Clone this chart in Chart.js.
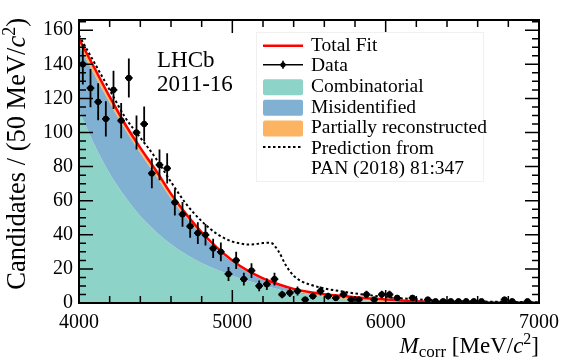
<!DOCTYPE html>
<html lang="en">
<head>
<meta charset="UTF-8">
<title>Corrected mass fit</title>
<script src="https://cdn.jsdelivr.net/npm/chart.js"></script>
<style>
  body { margin: 0; background: #fff; }
  #wrap { width: 567px; height: 362px; }
</style>
</head>
<body>
<div id="wrap"><canvas id="mcorr" width="567" height="362"></canvas></div>
<script>
// binned data, 50 MeV bins
const binCentres = [4025, 4075, 4125, 4175, 4225, 4275, 4325, 4375, 4425, 4475,
                    4525, 4575, 4625, 4675, 4725, 4775, 4825, 4875, 4925, 4975,
                    5025, 5075, 5125, 5175, 5225, 5275, 5325, 5375, 5425, 5475,
                    5525, 5575, 5625, 5675, 5725, 5775, 5825, 5875, 5925, 5975,
                    6025, 6075, 6125, 6175, 6225, 6275, 6325, 6375, 6425, 6475,
                    6525, 6575, 6625, 6675, 6725, 6775, 6825, 6875, 6925, 6975];
const counts = [140, 126, 118, 108, 125, 107, 132, 100, 105, 76,
                81, 79, 59, 52, 45, 41, 40, 32, 30, 17,
                25, 14, 19, 10, 11, 14, 5, 6, 7, 2,
                4, 7, 4, 3, 5, 2, 2, 5, 2, 5,
                5, 3, 0, 3, 0, 2, 1, 1, 1, 1,
                1, 1, 1, 0, 0, 2, 1, 0, 1, 0];
const binHalf = 25;

// fit components, read at 100 MeV steps
const fitMass = [4000, 4100, 4200, 4300, 4400, 4500, 4600, 4700, 4800, 4900,
                 5000, 5100, 5200, 5300, 5400, 5500, 5600, 5700, 5800, 5900,
                 6000, 6100, 6200, 6300, 6400, 6500, 6600, 6700, 6800, 6900, 7000];
const combinatorial = [113, 93, 76, 62.5, 51, 42, 34.5, 28.5, 23.5, 19.5,
                       16, 13, 10.5, 8, 6.2, 4.8, 3.6, 2.7, 2, 1.5,
                       1.1, 0.8, 0.6, 0.45, 0.35, 0.25, 0.2, 0.15, 0.1, 0.08, 0.06];
const misidentified = [38, 41, 41.5, 39.5, 37, 33, 27, 21.5, 16.5, 11.8,
                       8, 5, 3.2, 2.2, 1.2, 0.5, 0.2, 0.1, 0, 0,
                       0, 0, 0, 0, 0, 0, 0, 0, 0, 0, 0];
const partReco = [4, 4, 3.5, 3, 3, 3, 2.5, 2, 1.5, 1.2,
                  1, 1, 0.8, 0.8, 0.9, 1.2, 1.4, 1.4, 1.4, 1.2,
                  1, 0.7, 0.4, 0.25, 0.15, 0.15, 0.15, 0.15, 0.2, 0.17, 0.14];

// PAN (2018) 81:347 prediction
const predMass = [4000, 4100, 4200, 4300, 4400, 4500, 4600, 4700, 4800, 4900,
                  5000, 5050, 5100, 5150, 5200, 5250, 5300, 5350, 5400, 5450,
                  5500, 5600, 5700, 5800, 5900, 6000, 6200, 6400, 6600, 6800, 7000];
const prediction = [157, 141, 125, 109, 97, 85, 71, 58, 48, 40.5,
                    36, 35, 34.3, 34.5, 35.2, 35.3, 30.5, 22, 16, 12.8,
                    11, 8.5, 7, 5.6, 4.5, 3.5, 2.2, 1.3, 0.9, 0.6, 0.45];

const xRange = [4000, 7000];
const yRange = [0, 166];

const SERIF = '"Liberation Serif", "DejaVu Serif", serif';
const colTeal = '#8dd3c7', colBlue = '#80b1d3', colOrange = '#fdb462', colRed = '#ff0000';

const stackMis = combinatorial.map((v, i) => v + misidentified[i]);
const stackAll = stackMis.map((v, i) => v + partReco[i]);
const xy = (xs, ys) => xs.map((x, i) => ({x: x, y: ys[i]}));
const dataPts = binCentres.map((x, i) => ({x: x, y: counts[i]})).filter(p => p.y > 0);

function richText(ctx, parts, x, y, align) {
  let w = 0;
  parts.forEach(p => { ctx.font = p.font; p.w = ctx.measureText(p.t).width; w += p.w; });
  let cx = align === 'right' ? x - w : x;
  parts.forEach(p => {
    ctx.font = p.font;
    ctx.fillText(p.t, cx, y + (p.dy || 0));
    cx += p.w;
  });
}

const errorBars = {
  id: 'errorBars',
  beforeDatasetDraw(chart, args) {
    if (args.index !== 4) return;
    const {ctx, scales: {x, y}} = chart;
    ctx.save();
    ctx.strokeStyle = '#000';
    ctx.lineWidth = 1.8;
    ctx.beginPath();
    dataPts.forEach(p => {
      const px = x.getPixelForValue(p.x), py = y.getPixelForValue(p.y);
      const e = Math.sqrt(p.y);
      ctx.moveTo(x.getPixelForValue(p.x - binHalf), py);
      ctx.lineTo(x.getPixelForValue(p.x + binHalf), py);
      ctx.moveTo(px, y.getPixelForValue(p.y - e));
      ctx.lineTo(px, y.getPixelForValue(p.y + e));
    });
    ctx.stroke();
    ctx.restore();
  }
};

// ROOT-like frame with inward ticks, titles, labels and legend
const rootStyle = {
  id: 'rootStyle',
  afterDraw(chart) {
    const {ctx, chartArea: a, scales: {x, y}} = chart;
    ctx.save();
    ctx.strokeStyle = '#000';
    ctx.lineWidth = 2;
    ctx.strokeRect(a.left, a.top, a.right - a.left, a.bottom - a.top);

    ctx.lineWidth = 1.5;
    ctx.beginPath();
    for (let m = xRange[0]; m <= xRange[1]; m += 200) {
      const px = x.getPixelForValue(m);
      const len = m % 1000 === 0 ? 13 : 7;
      ctx.moveTo(px, a.bottom); ctx.lineTo(px, a.bottom - len);
      ctx.moveTo(px, a.top); ctx.lineTo(px, a.top + len);
    }
    for (let v = 0; v <= yRange[1]; v += 5) {
      const py = y.getPixelForValue(v);
      const len = v % 20 === 0 ? 14 : 7;
      ctx.moveTo(a.left, py); ctx.lineTo(a.left + len, py);
      ctx.moveTo(a.right, py); ctx.lineTo(a.right - len, py);
    }
    ctx.stroke();

    ctx.fillStyle = '#000';
    ctx.textBaseline = 'alphabetic';

    // y title
    ctx.save();
    ctx.translate(25, 18);
    ctx.rotate(-Math.PI / 2);
    richText(ctx, [
      {t: 'Candidates / (50 MeV/', font: '26.5px ' + SERIF},
      {t: 'c', font: 'italic 26.5px ' + SERIF},
      {t: '2', font: '18px ' + SERIF, dy: -10},
      {t: ')', font: '26.5px ' + SERIF}
    ], 0, 0, 'right');
    ctx.restore();

    // x title
    richText(ctx, [
      {t: 'M', font: 'italic 23px ' + SERIF},
      {t: 'corr', font: '17px ' + SERIF, dy: 4},
      {t: ' [MeV/', font: '23px ' + SERIF},
      {t: 'c', font: 'italic 23px ' + SERIF},
      {t: '2', font: '16px ' + SERIF, dy: -9},
      {t: ']', font: '23px ' + SERIF}
    ], 539, 353, 'right');

    // experiment label
    ctx.font = '23px ' + SERIF;
    ctx.fillText('LHCb', 157, 67);
    ctx.fillText('2011-16', 157, 91);

    // legend
    const lx = 256, ly = 32, lw = 227, lh = 149;
    ctx.fillStyle = '#fff';
    ctx.fillRect(lx, ly, lw, lh);
    ctx.strokeStyle = '#f0f0f0';
    ctx.lineWidth = 1;
    ctx.strokeRect(lx + 0.5, ly + 0.5, lw, lh);

    const sx0 = 263, sx1 = 303, tx = 311, base0 = 50.7, step = 20.6;
    const rows = ['Total Fit', 'Data', 'Combinatorial', 'Misidentified',
                  'Partially reconstructed', 'Prediction from', 'PAN (2018) 81:347'];
    ctx.font = '19.5px ' + SERIF;
    ctx.fillStyle = '#000';
    rows.forEach((r, i) => ctx.fillText(r, tx, base0 + i * step));

    ctx.strokeStyle = colRed; ctx.lineWidth = 2.5;
    ctx.beginPath(); ctx.moveTo(sx0, base0 - 5); ctx.lineTo(sx1, base0 - 5); ctx.stroke();

    const dy = base0 + step - 6.5;
    ctx.strokeStyle = '#000'; ctx.lineWidth = 1.6;
    ctx.beginPath();
    ctx.moveTo(sx0, dy); ctx.lineTo(sx1, dy);
    ctx.moveTo((sx0 + sx1) / 2, dy - 4); ctx.lineTo((sx0 + sx1) / 2, dy + 4);
    ctx.stroke();
    ctx.beginPath(); ctx.arc((sx0 + sx1) / 2, dy, 2.6, 0, 2 * Math.PI); ctx.fill();

    [colTeal, colBlue, colOrange].forEach((c, i) => {
      const cy = base0 + (i + 2) * step - 4.7;
      ctx.fillStyle = c;
      ctx.beginPath();
      ctx.roundRect(sx0, cy - 8, sx1 - sx0, 16, 2);
      ctx.fill();
    });

    const py = base0 + 5 * step - 6.7;
    ctx.strokeStyle = '#000'; ctx.lineWidth = 2;
    ctx.setLineDash([2.5, 2.5]);
    ctx.beginPath(); ctx.moveTo(sx0, py); ctx.lineTo(sx1, py); ctx.stroke();
    ctx.setLineDash([]);
    ctx.restore();
  }
};

Chart.defaults.font.family = SERIF;
Chart.defaults.color = '#000';

new Chart(document.getElementById('mcorr'), {
  type: 'scatter',
  data: {
    datasets: [
      {
        label: 'Combinatorial',
        type: 'line',
        data: xy(fitMass, combinatorial),
        backgroundColor: colTeal,
        borderWidth: 0,
        pointRadius: 0,
        fill: 'origin',
        cubicInterpolationMode: 'monotone',
        order: 6
      },
      {
        label: 'Misidentified',
        type: 'line',
        data: xy(fitMass, stackMis),
        backgroundColor: colBlue,
        borderWidth: 0,
        pointRadius: 0,
        fill: 0,
        cubicInterpolationMode: 'monotone',
        order: 5
      },
      {
        label: 'Total Fit',
        type: 'line',
        data: xy(fitMass, stackAll),
        backgroundColor: colOrange,
        borderColor: colRed,
        borderWidth: 2.5,
        pointRadius: 0,
        fill: 1,
        cubicInterpolationMode: 'monotone',
        order: 4
      },
      {
        label: 'Prediction from PAN (2018) 81:347',
        type: 'line',
        data: xy(predMass, prediction),
        borderColor: '#000',
        borderWidth: 2,
        borderDash: [2.5, 2.5],
        pointRadius: 0,
        fill: false,
        cubicInterpolationMode: 'monotone',
        order: 3
      },
      {
        label: 'Data',
        data: dataPts,
        backgroundColor: '#000',
        borderColor: '#000',
        pointRadius: 2.8,
        pointHoverRadius: 2.8,
        order: 1
      }
    ]
  },
  options: {
    responsive: false,
    animation: false,
    events: [],
    layout: { padding: { top: 20, right: 28, left: 0, bottom: 0 } },
    plugins: {
      legend: { display: false },
      tooltip: { enabled: false }
    },
    scales: {
      x: {
        type: 'linear',
        min: xRange[0],
        max: xRange[1],
        grid: { display: false, drawTicks: false },
        border: { display: false },
        ticks: {
          stepSize: 1000,
          autoSkip: false,
          maxRotation: 0,
          padding: 8,
          font: { size: 20, family: SERIF },
          color: '#000',
          callback: v => String(v)
        },
        afterFit: s => { s.height = 59; }
      },
      y: {
        min: yRange[0],
        max: yRange[1],
        grid: { display: false, drawTicks: false },
        border: { display: false },
        ticks: {
          stepSize: 20,
          includeBounds: false,
          padding: 6,
          font: { size: 20, family: SERIF },
          color: '#000',
          callback: v => (v % 20 === 0 ? String(v) : '')
        },
        afterFit: s => { s.width = 79; }
      }
    }
  },
  plugins: [errorBars, rootStyle]
});
</script>
</body>
</html>
